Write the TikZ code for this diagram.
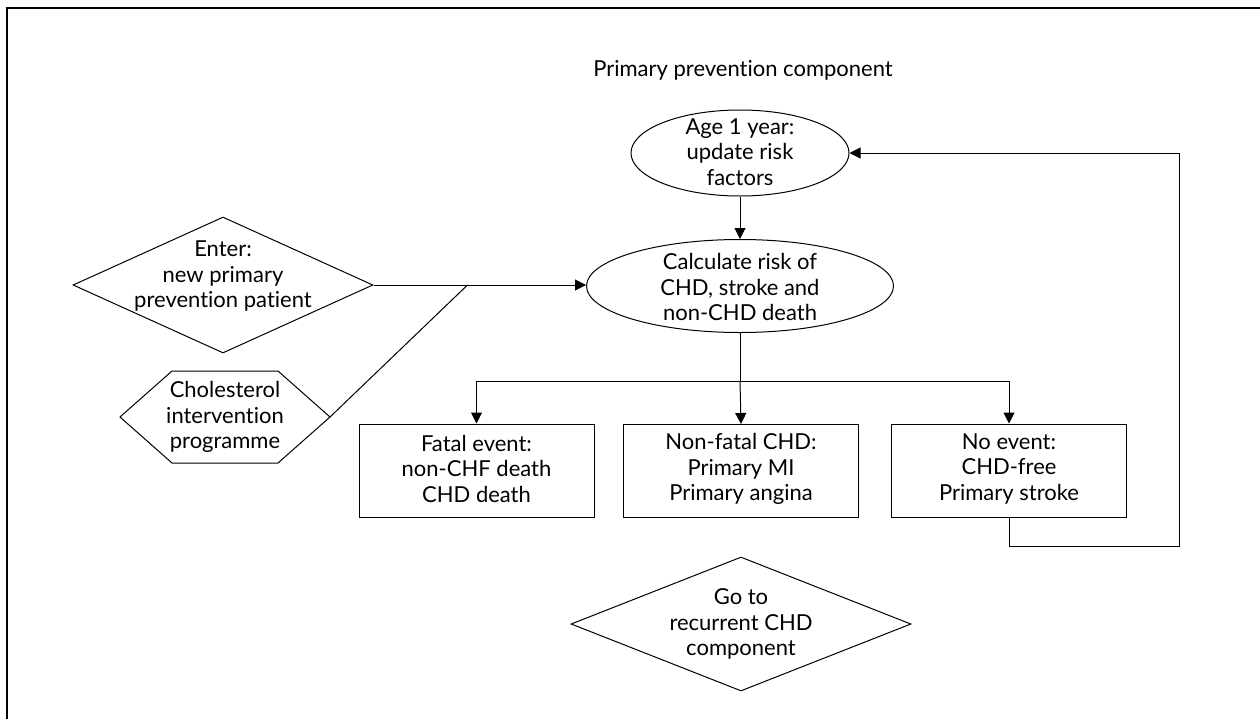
\documentclass[tikz,border=0pt]{standalone}
\usepackage{fontspec}
\setmainfont{Lato}[Ligatures={NoCommon,NoDiscretionary}]
\usetikzlibrary{arrows.meta,shapes.geometric,calc}

\tikzset{
  txt/.style={align=center,inner sep=0pt,font=\fontsize{22pt}{25.5pt}\selectfont},
  shapeline/.style={draw=black,line width=1pt},
  oval/.style={shapeline,ellipse,inner sep=0pt,minimum width=#1},
  rhomb/.style={shapeline,diamond,inner sep=0pt,minimum width=#1},
  outcome/.style={shapeline,rectangle,inner sep=0pt,minimum width=235pt,minimum height=93pt},
  flow/.style={line width=1pt,-{Triangle[length=11pt,width=11pt]}},
  link/.style={line width=1pt},
}

\begin{document}
\begin{tikzpicture}[x=1pt,y=-1pt]
  \clip (0,0) rectangle (1260,718);
  \fill[white] (0,0) rectangle (1260,718);

  % open frame: left and top rules only
  \draw[line width=1.4pt] (7,730) -- (7,8) -- (1270,8);

  % heading
  \node[txt] (title) at (743,70) {Primary prevention component};

  % ellipses
  \node[oval=218pt,minimum height=86pt] (age) at (740,153) {};
  \node[txt] (ageT) at (740,152) {Age 1 year:\\update risk\\factors};

  \node[oval=307pt,minimum height=93pt] (calc) at (740,286) {};
  \node[txt] (calcT) at (740,287) {Calculate risk of\\CHD, stroke and\\non-CHD death};

  % entry diamond
  \node[rhomb=300pt,minimum height=136pt] (enter) at (223,285) {};
  \node[txt] (enterT) at (223,276) {Enter:\\new primary\\prevention patient};

  % cholesterol programme hexagon
  \node[txt] (chol) at (225,417) {Cholesterol\\intervention\\programme};
  \draw[shapeline] ($(chol)+(-105,0)$) -- ($(chol)+(-53,-46)$) -- ($(chol)+(53,-46)$)
        -- ($(chol)+(105,0)$) coordinate (cholE) -- ($(chol)+(53,46)$) -- ($(chol)+(-53,46)$) -- cycle;

  % outcome boxes
  \node[outcome] (fatal) at (476.5,470.5) {};
  \node[txt] (fatalT) at (476.5,468.5) {Fatal event:\\non-CHF death\\CHD death};
  \node[outcome] (nonfatal) at (741,471) {};
  \node[txt] (nonfatalT) at (741,469) {Non-fatal CHD:\\Primary MI\\Primary angina};
  \node[outcome] (noevent) at (1009,470.5) {};
  \node[txt] (noeventT) at (1009,468.5) {No event:\\CHD-free\\Primary stroke};

  % exit diamond
  \node[rhomb=340pt,minimum height=134pt] (goto) at (741,624) {};
  \node[txt] (gotoT) at (741,624) {Go to\\recurrent CHD\\component};

  % connectors
  \draw[flow] (age.south) -- (calc.north);
  \draw[flow] (enter.east) -- (enter.east -| calc.west) coordinate (calcW);
  \coordinate (join) at ($(enter.east)+(94,0)$);
  \draw[link] (cholE) -- (join);

  \coordinate (split) at (calc.south |- 0,381);
  \draw[link] (calc.south) -- (split);
  \draw[link] (split -| fatal.north) -- (split -| noevent.north);
  \draw[flow] (split -| fatal.north) -- (fatal.north);
  \draw[flow] (split) -- (nonfatal.north);
  \draw[flow] (split -| noevent.north) -- (noevent.north);

  \coordinate (loopB) at (1179,546);
  \draw[flow] (noevent.south) |- (loopB) |- (age.east);
\end{tikzpicture}
\end{document}
